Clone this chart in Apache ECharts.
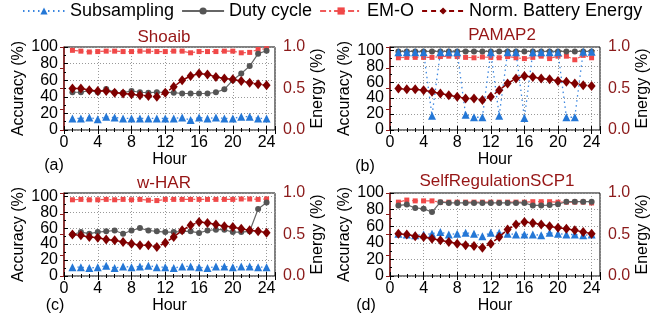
<!DOCTYPE html>
<html>
<head>
<meta charset="utf-8">
<script src="https://cdn.jsdelivr.net/npm/echarts@6.0.0/dist/echarts.min.js"></script>
<style>
html, body { margin: 0; padding: 0; background: #fff; }
#chart { width: 652px; height: 324px; }
</style>
</head>
<body>
<div id="chart"></div>
<script>
const hours = [1, 2, 3, 4, 5, 6, 7, 8, 9, 10, 11, 12, 13, 14, 15, 16, 17, 18, 19, 20, 21, 22, 23, 24];
const xTicks = [0, 4, 8, 12, 16, 20, 24];

const panelTitles = ['Shoaib', 'PAMAP2', 'w-HAR', 'SelfRegulationSCP1'];
const panelTags = ['(a)', '(b)', '(c)', '(d)'];
const seriesNames = ['Subsampling', 'Duty cycle', 'EM-O', 'Norm. Battery Energy'];

// (a) Shoaib
const subA = [14, 14, 15, 13, 16, 15, 14, 14, 14, 14, 14, 14, 14, 15, 12, 15, 14, 15, 14, 14, 16, 16, 14, 14];
const dutyA = [45.5, 45.5, 47.5, 45.5, 49.5, 45.5, 45, 47, 45.5, 45, 45.5, 45.5, 45, 44, 44, 44, 44, 45.5, 49, 60, 68, 77, 92, 95.5];
const emoA = [96, 95, 94, 94.5, 95, 95, 94.5, 94.5, 95, 95, 94.5, 94.5, 95, 95, 93, 94.5, 94.5, 94.5, 95, 95, 93, 93.5, 97, 98];
const energyA = [0.50, 0.50, 0.48, 0.47, 0.47, 0.45, 0.44, 0.43, 0.42, 0.41, 0.40, 0.45, 0.52, 0.60, 0.65, 0.68, 0.67, 0.64, 0.62, 0.61, 0.59, 0.57, 0.55, 0.54];

// (b) PAMAP2
const subB = [97.5, 97.5, 97.5, 97.5, 18, 97.5, 97.5, 97.5, 19, 16, 16, 97.5, 18, 97.5, 97.5, 15, 97.5, 97.5, 97.5, 97.5, 16, 16, 98, 98];
const dutyB = [98.5, 98.5, 98.5, 98.5, 98.5, 98.5, 98.5, 98.5, 98.5, 98.5, 98.5, 98.5, 98.5, 98.5, 98.5, 98.5, 98.5, 98.5, 98.5, 98.5, 98.5, 98.5, 98.5, 98.5];
const emoB = [90.5, 91, 91, 91, 91, 92, 92.5, 92, 91, 90.5, 91.5, 91, 90.5, 92, 90.5, 89.5, 91, 92.5, 89.5, 92.5, 92.5, 88, 93.5, 90.5];
const energyB = [0.50, 0.49, 0.49, 0.48, 0.46, 0.44, 0.42, 0.40, 0.38, 0.38, 0.36, 0.40, 0.48, 0.56, 0.62, 0.65, 0.64, 0.62, 0.61, 0.59, 0.58, 0.56, 0.54, 0.53];

// (c) w-HAR
const subC = [11, 11, 10, 11, 13, 10, 12, 11, 12, 13, 11, 11, 10, 12, 12, 11, 10, 12, 12, 11, 12, 12, 11, 11];
const dutyC = [52, 55, 53, 55, 56, 57, 53, 57, 60, 57, 56, 55, 55, 56, 56, 54, 57, 58, 58, 55, 55, 56, 84, 92];
const emoC = [95.5, 96, 95.5, 95.5, 96, 95.5, 96, 95.5, 96, 95, 94.5, 96, 96, 96, 96, 96, 96, 96, 96, 96, 96.5, 96.5, 96, 96.5];
const energyC = [0.50, 0.49, 0.47, 0.46, 0.44, 0.43, 0.41, 0.39, 0.37, 0.37, 0.35, 0.40, 0.47, 0.55, 0.61, 0.65, 0.64, 0.62, 0.60, 0.59, 0.57, 0.55, 0.54, 0.52];

// (d) SelfRegulationSCP1
const subD = [51, 50, 49, 50, 51, 53, 50, 51, 52, 51, 48, 52, 52, 51, 50, 50, 50, 49, 52, 51, 50, 50, 49, 50];
const dutyD = [85, 86, 82, 81, 77, 89, 88, 88, 88, 88, 88, 88, 88, 88, 88, 88, 85, 85, 85.5, 86.5, 89.5, 89.5, 89.5, 89.5];
const emoD = [89, 91.5, 90.5, 90.5, 90.5, 89, 89, 89, 89, 89, 89, 89, 89, 89, 89, 89, 89.5, 89.5, 89.5, 89, 89, 89, 89, 88];
const energyD = [0.51, 0.50, 0.48, 0.47, 0.45, 0.43, 0.41, 0.39, 0.37, 0.36, 0.34, 0.39, 0.47, 0.56, 0.62, 0.65, 0.64, 0.62, 0.60, 0.58, 0.57, 0.55, 0.53, 0.51];

const panels = [
    [subA, dutyA, emoA, energyA],
    [subB, dutyB, emoB, energyB],
    [subC, dutyC, emoC, energyC],
    [subD, dutyD, emoD, energyD]
];

const FONT = '"Liberation Sans", Arial, sans-serif';
const DARKRED = '#8b1a1a';

const grids = [
    { left: 64, top: 47, width: 211, height: 83 },
    { left: 390, top: 47, width: 210, height: 83 },
    { left: 64, top: 193, width: 211, height: 83 },
    { left: 390, top: 193, width: 210, height: 83 }
];
const yMax = [100, 104, 104, 100];
const titlePos = [[164, 37], [502, 35], [164, 183], [497, 181]];
const tagPos = [[54, 166], [365, 167], [55, 306], [366, 306]];

const looks = [
    { color: '#2477d6', symbol: 'triangle', size: 8, line: { type: [1.5, 3.5], width: 1.3, color: '#3b86e0' }, z: 4 },
    { color: '#555555', symbol: 'circle', size: 6, line: { type: 'solid', width: 1.2, color: '#666666' }, z: 3 },
    { color: '#f04848', symbol: 'rect', size: 5, line: { type: [6, 3, 2, 3], width: 1.2, color: '#f05a5a' }, z: 2 },
    { color: '#7f0000', symbol: 'diamond', size: [8, 10], line: { type: [5, 4], width: 1.5, color: '#8b0000' }, z: 5 }
];

const xAxes = [];
const yAxes = [];
const series = [];
const graphics = [];

grids.forEach((g, p) => {
    const tickBase = {
        inside: true, length: 4, lineStyle: { color: '#000' }
    };
    xAxes.push({
        type: 'value', gridIndex: p, position: 'bottom', min: 0, max: 25, interval: 4,
        axisLine: { show: false },
        axisTick: tickBase,
        minorTick: { show: true, splitNumber: 4, length: 2, lineStyle: { color: '#000' } },
        splitLine: { show: true, lineStyle: { color: '#999', type: [1, 2], width: 1 } },
        axisLabel: { color: '#000', fontSize: 16, fontFamily: FONT, margin: 5, showMinLabel: true, showMaxLabel: false,
            hideOverlap: false,
            formatter: v => (xTicks.indexOf(v) >= 0 ? String(v) : '') },
        name: 'Hour', nameLocation: 'middle', nameGap: 22,
        nameTextStyle: { color: '#000', fontSize: 16, fontFamily: FONT }
    });
    xAxes.push({
        type: 'value', gridIndex: p, position: 'top', min: 0, max: 25, interval: 4,
        axisLine: { show: false },
        axisTick: tickBase,
        minorTick: { show: true, splitNumber: 4, length: 2, lineStyle: { color: '#000' } },
        splitLine: { show: false },
        axisLabel: { show: false }
    });
    yAxes.push({
        type: 'value', gridIndex: p, position: 'left', min: 0, max: yMax[p], interval: 20,
        axisLine: { show: false },
        axisTick: tickBase,
        minorTick: { show: true, splitNumber: 2, length: 2, lineStyle: { color: '#000' } },
        splitLine: { show: true, lineStyle: { color: '#999', type: [1, 2], width: 1 } },
        axisLabel: { color: '#000', fontSize: 16, fontFamily: FONT, margin: 6,
            showMinLabel: true, showMaxLabel: true, hideOverlap: false,
            formatter: v => (v % 20 === 0 ? String(v) : '') },
        name: 'Accuracy (%)', nameLocation: 'middle', nameGap: 37,
        nameTextStyle: { color: '#000', fontSize: 16, fontFamily: FONT }
    });
    yAxes.push({
        type: 'value', gridIndex: p, position: 'right', min: 0, max: 1, interval: 0.5,
        axisLine: { show: true, lineStyle: { color: DARKRED, width: 1.5 } },
        axisTick: { inside: true, length: 4, lineStyle: { color: DARKRED } },
        minorTick: { show: true, splitNumber: 2, length: 4, lineStyle: { color: DARKRED } },
        splitLine: { show: false },
        axisLabel: { color: DARKRED, fontSize: 16, fontFamily: FONT, margin: 8,
            showMinLabel: true, showMaxLabel: true, hideOverlap: false,
            formatter: v => v.toFixed(1) },
        name: 'Energy (%)', nameLocation: 'middle', nameGap: 33,
        nameTextStyle: { color: '#000', fontSize: 16, fontFamily: FONT }
    });

    panels[p].forEach((vals, k) => {
        const lk = looks[k];
        series.push({
            name: seriesNames[k],
            type: 'line',
            xAxisIndex: 2 * p,
            yAxisIndex: k === 3 ? 2 * p + 1 : 2 * p,
            data: hours.map((h, i) => [h, vals[i]]),
            symbol: lk.symbol,
            symbolSize: lk.size,
            showAllSymbol: true,
            z: lk.z,
            itemStyle: { color: lk.color },
            lineStyle: lk.line,
            emphasis: { disabled: true },
            animation: false
        });
    });

    graphics.push({
        type: 'text', x: titlePos[p][0], y: titlePos[p][1],
        style: { text: panelTitles[p], fill: '#961515', font: '17px ' + FONT, align: 'center', verticalAlign: 'middle' }
    });
    graphics.push({
        type: 'text', x: tagPos[p][0], y: tagPos[p][1],
        style: { text: panelTags[p], fill: '#000', font: '16px ' + FONT, align: 'center', verticalAlign: 'middle' }
    });
});

const chart = echarts.init(document.getElementById('chart'));

const option = {
    animation: false,
    backgroundColor: '#fff',
    legend: {
        data: seriesNames,
        left: 22,
        top: 2,
        width: 630,
        padding: 0,
        itemWidth: 42,
        itemHeight: 9,
        itemGap: 7,
        textStyle: { color: '#000', fontSize: 18, fontFamily: FONT },
        selectedMode: false
    },
    grid: grids.map(g => Object.assign({ show: true, borderColor: '#000', borderWidth: 1, backgroundColor: 'transparent' }, g)),
    xAxis: xAxes,
    yAxis: yAxes,
    series: series,
    graphic: graphics
};

option && chart.setOption(option);
window.addEventListener('resize', chart.resize);
</script>
</body>
</html>
